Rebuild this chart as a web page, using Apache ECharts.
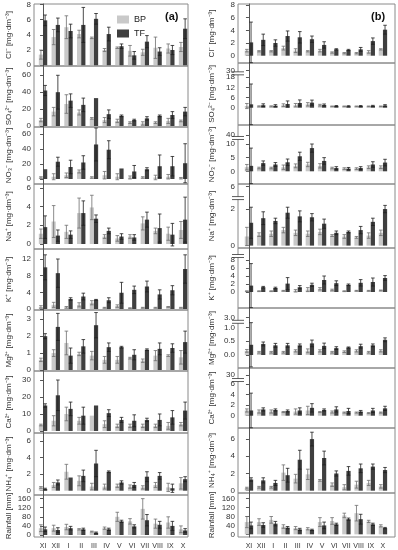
<!DOCTYPE html>
<html><head><meta charset="utf-8">
<script src="https://cdn.jsdelivr.net/npm/echarts@6/dist/echarts.min.js"></script>
<style>html,body{margin:0;padding:0;background:#fff}#c{width:398px;height:550px}</style>
</head><body><div id="c"></div>
<script>
const months = ['XI','XII','I','II','III','IV','V','VI','VII','VIII','IX','X'];

// ---------- Panel (a) ----------
const cl_a_BP = [1.4,3.7,5.0,4.1,3.6,2.0,2.3,1.9,1.7,2.3,2.2,2.4];
const cl_a_BPsd = [0.6,1.0,1.5,0.5,0.1,0.2,0.1,0.7,0.4,1.4,0.6,0.6];
const cl_a_TF = [5.9,5.3,4.5,5.3,6.1,4.1,2.5,1.3,3.1,1.8,2.0,4.8];
const cl_a_TFsd = [0.7,0.9,0.9,2.3,0.7,0.9,0.3,0.5,0.8,0.5,0.6,1.3];

const so4_a_BP = [7,17,26,16,9,7,6,4,3,4,6,6];
const so4_a_BPsd = [2,5,11,3,1,3,2,1,2,1,3,1];
const so4_a_TF = [42,40,30,25,33,14,12,7,9,12,13,17];
const so4_a_TFsd = [6,20,8,8,0,5,1,1,2,1,4,5];

const no3_a_BP = [2,3,5,10,2,5,3,2,2,2,3,1];
const no3_a_BPsd = [1,4,3,2,1,5,4,2,1,3,3,1];
const no3_a_TF = [13,23,16,22,46,39,14,10,13,17,17,21];
const no3_a_TFsd = [0,6,9,9,22,12,0,8,2,15,13,26];

const na_a_BP = [1.1,2.4,1.3,3.3,3.9,0.8,0.6,0.8,2.2,1.4,1.1,1.5];
const na_a_BPsd = [0.5,1.7,0.7,1.6,1.3,0.2,0.3,0.2,0.7,0.3,0.7,0.9];
const na_a_TF = [1.8,0.9,1.0,3.3,2.7,1.4,0.8,0.7,2.6,1.7,1.0,2.6];
const na_a_TFsd = [1.2,0.6,0.4,1.3,0.4,0.3,0.3,0.3,0.8,1.5,1.2,2.4];

const k_a_BP = [0.5,1.0,0.4,1.0,1.5,0.3,0.7,0.2,0.3,0.3,0.5,0.3];
const k_a_BPsd = [0.3,0.6,0.2,0.5,0.5,0.1,0.3,0.1,0.1,0.1,0.1,0.1];
const k_a_TF = [10,8.6,2.4,3.0,2.2,2.1,3.9,4.6,5.4,3.5,4.5,9.6];
const k_a_TFsd = [3,3.4,0.3,0.8,0.1,0.6,2.5,0.9,1.3,1.1,1.1,3.4];

const mg_a_BP = [0.6,1.0,1.6,0.95,0.85,0.6,0.6,0.7,0.55,0.85,0.85,0.75];
const mg_a_BPsd = [0.1,0.2,0.7,0.1,0.25,0.2,0.2,0.05,0.1,0.3,0.05,0.4];
const mg_a_TF = [2.0,2.55,0.85,1.4,2.65,1.35,1.35,0.9,1.2,1.25,1.3,1.65];
const mg_a_TFsd = [0.15,0.8,0.45,0.4,0.75,0.25,0.05,0.3,0.05,0.35,0.25,0.65];

const ca_a_BP = [3.5,6,10,6,9,4,3,3,3,3,3,4];
const ca_a_BPsd = [0.5,3,4,2,0,2,1,1,1,1,2,1];
const ca_a_TF = [15,21,13,9,15,10.5,6.5,6,6.5,6.5,8,12];
const ca_a_TFsd = [1,9,4,5,0,2,1.5,3.5,1,3.5,4,5];

const nh4_a_BP = [0.4,0.7,2.3,1.2,0.5,0.5,0.6,0.5,0.4,0.7,0.4,0.9];
const nh4_a_BPsd = [0.1,0.3,0.9,0.6,0.4,0.3,0.2,0.2,0.2,0.3,0.5,0.7];
const nh4_a_TF = [0.2,1.0,1.6,1.8,3.3,2.3,1.0,0.7,1.7,1.8,0.3,1.4];
const nh4_a_TFsd = [0.1,0.3,0,0.7,1.6,0.1,0.2,0.3,0.6,0.4,0.5,0.3];

const rain_a_BP = [30,30,35,25,15,30,80,60,115,50,55,25];
const rain_a_BPsd = [15,13,12,3,2,5,20,12,45,20,25,15];
const rain_a_TF = [25,22,30,25,10,25,60,38,65,45,40,20];
const rain_a_TFsd = [10,10,8,5,3,5,5,7,25,15,20,8];

// ---------- Panel (b) ----------
const cl_b_BP = [0.8,0.7,0.7,1.2,0.8,0.7,0.8,0.5,0.4,0.4,0.6,1.0];
const cl_b_BPsd = [0.2,0.1,0.1,0.3,0.3,0.1,0.2,0.1,0.1,0.1,0.2,0.1];
const cl_b_TF = [2.1,2.5,2.0,3.1,2.9,2.6,1.7,1.0,0.9,1.0,2.3,4.1];
const cl_b_TFsd = [3.2,0.9,0.5,0.8,0.9,0.5,0.5,0.1,0.1,0.3,0.5,0.7];

const so4_b_BP = [1,0.8,0.8,1.5,1.5,2,1.5,0.8,0.8,0.8,0.8,0.8];
const so4_b_BPsd = [1.5,0.3,0.3,0.8,1,1,0.5,0.2,0.2,0.2,0.2,0.2];
const so4_b_TF = [2,1.5,1.2,2.2,2.8,3,1.6,1.0,0.9,1.0,1.1,1.3];
const so4_b_TFsd = [12,0.8,0.6,1.8,1.8,1.5,0.6,0.3,0.3,0.3,0.3,0.5];

const no3_b_BP = [1.5,1.2,1.2,1.5,2,2.5,2,1.2,1,1,1.5,1.5];
const no3_b_BPsd = [1,0.3,0.3,0.8,0.7,0.8,0.8,0.3,0.3,0.3,0.5,0.5];
const no3_b_TF = [2,3,2.5,3.3,5.5,8.5,3.8,1.2,1.0,1.2,2.5,3.2];
const no3_b_TFsd = [6.5,0.8,0.7,1.2,1.5,1.5,1.2,0.5,0.4,0.5,1.0,1.2];

const na_b_BP = [0.5,0.6,0.65,0.85,0.7,0.65,0.75,0.55,0.5,0.45,0.55,0.7];
const na_b_BPsd = [0.5,0.1,0.15,0.15,0.15,0.15,0.15,0.05,0.1,0.05,0.15,0.15];
const na_b_TF = [1.25,1.5,1.35,1.8,1.6,1.55,1.2,0.7,0.75,0.85,1.3,2.0];
const na_b_TFsd = [0.85,0.35,0.15,0.3,0.3,0.2,0.25,0.1,0.05,0.2,0.2,0.2];

const k_b_BP = [0.2,0.2,0.2,0.3,0.3,0.6,0.8,0.5,0.2,0.3,0.3,0.4];
const k_b_BPsd = [0.1,0.1,0.1,0.1,0.3,0.5,0.3,0.2,0.1,0.1,0.1,0.1];
const k_b_TF = [1.6,1.2,1.0,2.1,1.2,1.8,3.0,2.2,1.8,2.3,2.5,3.5];
const k_b_TFsd = [5.5,0.2,0.2,1.5,0.4,0.4,1.0,0.6,0.2,0.8,1.0,0.6];

const mg_b_BP = [0.15,0.1,0.1,0.1,0.15,0.15,0.15,0.1,0.12,0.15,0.1,0.15];
const mg_b_BPsd = [0.05,0.03,0.03,0.03,0.04,0.07,0.04,0.03,0.03,0.04,0.03,0.04];
const mg_b_TF = [0.37,0.4,0.35,0.35,0.35,0.42,0.33,0.25,0.27,0.32,0.35,0.55];
const mg_b_TFsd = [0.8,0.07,0.07,0.07,0.05,0.12,0.1,0.05,0.02,0.07,0.05,0.07];

const ca_b_BP = [1,0.8,0.8,0.7,0.8,1.0,0.7,0.7,0.6,0.6,0.5,0.6];
const ca_b_BPsd = [0.3,0.3,0.3,0.1,0.5,0.8,0.1,0.2,0.1,0.1,0.1,0.1];
const ca_b_TF = [1.0,1.2,1.1,0.9,1.0,1.5,1.1,1.2,0.9,0.8,1.0,1.4];
const ca_b_TFsd = [3.3,0.3,0.2,0.2,0.5,0.8,0.2,0.5,0.5,0.2,0.4,0.4];

const nh4_b_BP = [0.3,0.4,0.4,2.1,1.4,1.9,1.2,0.7,0.4,0.7,0.9,0.5];
const nh4_b_BPsd = [0.1,0.1,0.1,0.9,0.5,0.6,0.1,0.2,0.3,0.4,0.3,0.2];
const nh4_b_TF = [1.3,1.2,0.9,1.8,3.6,6.0,3.8,2.0,2.3,2.6,2.8,2.4];
const nh4_b_TFsd = [0.2,0.3,0.3,0.8,1.1,0.8,0.8,0.3,0.5,0.5,0.3,0.3];

const rain_b_BP = [55,55,65,35,28,25,55,60,85,95,58,38];
const rain_b_BPsd = [25,15,15,8,7,5,20,15,10,35,5,5];
const rain_b_TF = [40,42,48,30,22,20,40,45,68,68,45,28];
const rain_b_TFsd = [15,10,10,5,5,3,15,5,5,22,5,3];

// ---------- Axis tick labels ----------
const cl_a_ticks = [0,2,4,6,8];
const so4_a_ticks = [0,20,40,60];
const no3_a_ticks = [0,20,40,60];
const na_a_ticks = [0,2,4,6];
const k_a_ticks = [0,4,8,12];
const mg_a_ticks = [0,1,2,3];
const ca_a_ticks = [0,10,20,30];
const nh4_a_ticks = [0,2,4,6];
const rain_ticks = [0,40,80,120,160];

const cl_b_ticks = [0,2,4,6,8];
const so4_b_tickPos = [0,6,12,18,21.9,24.3];
const so4_b_tickText = ['0','6','12','18','30','60'];
const no3_b_tickPos = [0,5,10,13.3,14.9];
const no3_b_tickText = ['0','5','10','40','60'];
const na_b_tickPos = [0,2,3.22];
const na_b_tickText = ['0','2','6'];
const k_b_tickPos = [0,2,4,6,8,9.9];
const k_b_tickText = ['0','2','4','6','8','12'];
const mg_b_tickPos = [0,0.5,1.0,1.36];
const mg_b_tickText = ['0.0','0.5','1.0','3.0'];
const ca_b_tickPos = [0,2,4,6,7.7];
const ca_b_tickText = ['0','2','4','6','30'];
const nh4_b_ticks = [0,2,4,6];

const UNIT = ' [mg·dm⁻³]';
const names = ['Cl⁻'+UNIT,'SO₄²⁻'+UNIT,'NO₃⁻'+UNIT,'Na⁺'+UNIT,'K⁺'+UNIT,'Mg²⁺'+UNIT,'Ca²⁺'+UNIT,'NH₄⁺'+UNIT,'Rainfall [mm]'];

// layout (pixels)
const colA = {left:34, right:210, tops:[4,66,127,184,249,310,371,433,495], bots:[66,127,184,249,310,371,433,495,537], xmin:-0.71, xmax:11.39, nameGap:21};
const colB = {left:238, right:3, tops:[4,63,125,184,248,308,368,428,493], bots:[63,125,184,248,308,368,428,493,537], xmin:-0.9, xmax:11.99, nameGap:22};

const panels = [
  {c:colA,r:0,bp:cl_a_BP,bps:cl_a_BPsd,tf:cl_a_TF,tfs:cl_a_TFsd,min:-0.1,max:8.05,tp:cl_a_ticks},
  {c:colA,r:1,bp:so4_a_BP,bps:so4_a_BPsd,tf:so4_a_TF,tfs:so4_a_TFsd,min:-1.2,max:71,tp:so4_a_ticks},
  {c:colA,r:2,bp:no3_a_BP,bps:no3_a_BPsd,tf:no3_a_TF,tfs:no3_a_TFsd,min:-6.7,max:69.3,tp:no3_a_ticks},
  {c:colA,r:3,bp:na_a_BP,bps:na_a_BPsd,tf:na_a_TF,tfs:na_a_TFsd,min:-0.53,max:6.4,tp:na_a_ticks},
  {c:colA,r:4,bp:k_a_BP,bps:k_a_BPsd,tf:k_a_TF,tfs:k_a_TFsd,min:-0.24,max:14.4,tp:k_a_ticks},
  {c:colA,r:5,bp:mg_a_BP,bps:mg_a_BPsd,tf:mg_a_TF,tfs:mg_a_TFsd,min:-0.06,max:3.55,tp:mg_a_ticks},
  {c:colA,r:6,bp:ca_a_BP,bps:ca_a_BPsd,tf:ca_a_TF,tfs:ca_a_TFsd,min:-1.2,max:35.3,tp:ca_a_ticks},
  {c:colA,r:7,bp:nh4_a_BP,bps:nh4_a_BPsd,tf:nh4_a_TF,tfs:nh4_a_TFsd,min:-0.52,max:7.0,tp:nh4_a_ticks},
  {c:colA,r:8,bp:rain_a_BP,bps:rain_a_BPsd,tf:rain_a_TF,tfs:rain_a_TFsd,min:-8.8,max:176,tp:rain_ticks},
  {c:colB,r:0,bp:cl_b_BP,bps:cl_b_BPsd,tf:cl_b_TF,tfs:cl_b_TFsd,min:-1.15,max:8.15,tp:cl_b_ticks},
  {c:colB,r:1,bp:so4_b_BP,bps:so4_b_BPsd,tf:so4_b_TF,tfs:so4_b_TFsd,min:-10.2,max:26.4,tp:so4_b_tickPos,tt:so4_b_tickText,brk:20.3},
  {c:colB,r:2,bp:no3_b_BP,bps:no3_b_BPsd,tf:no3_b_TF,tfs:no3_b_TFsd,min:-4.65,max:16.96,tp:no3_b_tickPos,tt:no3_b_tickText,brk:12.2},
  {c:colB,r:3,bp:na_b_BP,bps:na_b_BPsd,tf:na_b_TF,tfs:na_b_TFsd,min:-0.13,max:3.37,tp:na_b_tickPos,tt:na_b_tickText,brk:2.6},
  {c:colB,r:4,bp:k_b_BP,bps:k_b_BPsd,tf:k_b_TF,tfs:k_b_TFsd,min:-4,max:11,tp:k_b_tickPos,tt:k_b_tickText,brk:9.0},
  {c:colB,r:5,bp:mg_b_BP,bps:mg_b_BPsd,tf:mg_b_TF,tfs:mg_b_TFsd,min:-0.47,max:1.7,tp:mg_b_tickPos,tt:mg_b_tickText,brk:1.2},
  {c:colB,r:6,bp:ca_b_BP,bps:ca_b_BPsd,tf:ca_b_TF,tfs:ca_b_TFsd,min:-2.34,max:9.09,tp:ca_b_tickPos,tt:ca_b_tickText,brk:6.8},
  {c:colB,r:7,bp:nh4_b_BP,bps:nh4_b_BPsd,tf:nh4_b_TF,tfs:nh4_b_TFsd,min:-0.27,max:7.29,tp:nh4_b_ticks},
  {c:colB,r:8,bp:rain_b_BP,bps:rain_b_BPsd,tf:rain_b_TF,tfs:rain_b_TFsd,min:-12,max:185.6,tp:rain_ticks}
];

const BP_COLOR = '#c9c9c9', TF_COLOR = '#3f3f3f';
const FONT = 'Liberation Sans, Arial, sans-serif';

function barRender(offset, width, fill, errCol) {
  return function (params, api) {
    const cs = params.coordSys;
    const x = api.value(0), v = api.value(1), e = api.value(2);
    const clampY = y => Math.max(cs.y, Math.min(cs.y + cs.height, y));
    const base = api.coord([x, 0]);
    const top = api.coord([x, v]);
    const cx = base[0] + offset;
    const y0 = clampY(base[1]), y1 = clampY(top[1]);
    const hiRaw = api.coord([x, v + e])[1], loRaw = api.coord([x, v - e])[1];
    const yHi = clampY(hiRaw), yLo = clampY(loRaw);
    const children = [{
      type: 'rect',
      shape: {x: cx - width / 2, y: Math.min(y0, y1), width: width, height: Math.abs(y0 - y1)},
      style: {fill: fill}
    }];
    if (e > 0) {
      const st = {stroke: errCol, lineWidth: 0.8};
      children.push({type: 'line', shape: {x1: cx, y1: yLo, x2: cx, y2: yHi}, style: st});
      if (hiRaw >= cs.y) children.push({type: 'line', shape: {x1: cx - 1.8, y1: yHi, x2: cx + 1.8, y2: yHi}, style: st});
      if (loRaw <= cs.y + cs.height) children.push({type: 'line', shape: {x1: cx - 1.8, y1: yLo, x2: cx + 1.8, y2: yLo}, style: st});
    }
    return {type: 'group', children: children};
  };
}

function breakRender(params, api) {
  const p = api.coord([api.value(0), api.value(1)]);
  return {type: 'group', children: [
    {type: 'rect', shape: {x: p[0] - 1.5, y: p[1] - 1.5, width: 3, height: 3}, style: {fill: '#fff'}},
    {type: 'line', shape: {x1: p[0] - 6, y1: p[1] - 1.5, x2: p[0] + 6, y2: p[1] - 1.5}, style: {stroke: '#333', lineWidth: 0.8}},
    {type: 'line', shape: {x1: p[0] - 6, y1: p[1] + 1.5, x2: p[0] + 6, y2: p[1] + 1.5}, style: {stroke: '#333', lineWidth: 0.8}}
  ]};
}

const grids = [], xAxes = [], yAxes = [], series = [];
panels.forEach((p, k) => {
  const c = p.c;
  grids.push({left: c.left, right: c.right, top: c.tops[p.r], height: c.bots[p.r] - c.tops[p.r],
    show: true, borderColor: '#8a8a8a', borderWidth: 1, containLabel: false});
  const bottom = p.r === 8;
  xAxes.push({gridIndex: k, type: 'value', min: c.xmin, max: c.xmax,
    axisLine: {show: false}, axisTick: {show: false}, splitLine: {show: false},
    axisLabel: {show: bottom, customValues: months.map((m, i) => i), formatter: v => months[Math.round(v)] || '',
      fontSize: 7, color: '#333', margin: 6, fontFamily: FONT}});
  const texts = p.tt || p.tp.map(String);
  yAxes.push({gridIndex: k, type: 'value', min: p.min, max: p.max,
    axisLine: {show: true, lineStyle: {color: '#555', width: 1}},
    axisTick: {show: true, length: 3, customValues: p.tp, lineStyle: {color: '#555'}},
    axisLabel: {customValues: p.tp, fontSize: 8, color: '#333', margin: 3, fontFamily: FONT,
      formatter: v => { const i = p.tp.findIndex(t => Math.abs(t - v) < 1e-6); return i >= 0 ? texts[i] : ''; }},
    splitLine: {show: false},
    name: names[p.r], nameLocation: 'middle', nameGap: c.nameGap, nameRotate: 90,
    nameTextStyle: {fontSize: 8, color: '#333', fontFamily: FONT}});
  series.push({type: 'custom', name: 'BP', xAxisIndex: k, yAxisIndex: k, itemStyle: {color: BP_COLOR},
    renderItem: barRender(-2.1, 4.2, BP_COLOR, '#6e6e6e'), encode: {x: 0, y: 1},
    data: months.map((m, i) => [i, p.bp[i], p.bps[i]]), silent: true});
  series.push({type: 'custom', name: 'TF', xAxisIndex: k, yAxisIndex: k, itemStyle: {color: TF_COLOR},
    renderItem: barRender(2.1, 4.2, TF_COLOR, '#1e1e1e'), encode: {x: 0, y: 1},
    data: months.map((m, i) => [i, p.tf[i], p.tfs[i]]), silent: true});
  if (p.brk !== undefined) {
    series.push({type: 'custom', xAxisIndex: k, yAxisIndex: k, renderItem: breakRender, silent: true,
      encode: {x: 0, y: 1}, data: [[c.xmin, p.brk]], z: 10});
  }
});

const chart = echarts.init(document.getElementById('c'), null, {renderer: 'canvas'});
chart.setOption({
  animation: false,
  backgroundColor: '#fff',
  textStyle: {fontFamily: FONT},
  title: [
    {text: '(a)', left: 160, top: 6, textStyle: {fontSize: 11, fontWeight: 'bold', color: '#111', fontFamily: FONT}},
    {text: '(b)', left: 366, top: 6, textStyle: {fontSize: 11, fontWeight: 'bold', color: '#111', fontFamily: FONT}}
  ],
  legend: {data: ['BP', 'TF'], orient: 'vertical', left: 112, top: 10, itemWidth: 12, itemHeight: 8, itemGap: 5,
    icon: 'rect', textStyle: {fontSize: 9, color: '#222', fontFamily: FONT}, selectedMode: false},
  grid: grids, xAxis: xAxes, yAxis: yAxes, series: series
});
</script>
</body></html>
